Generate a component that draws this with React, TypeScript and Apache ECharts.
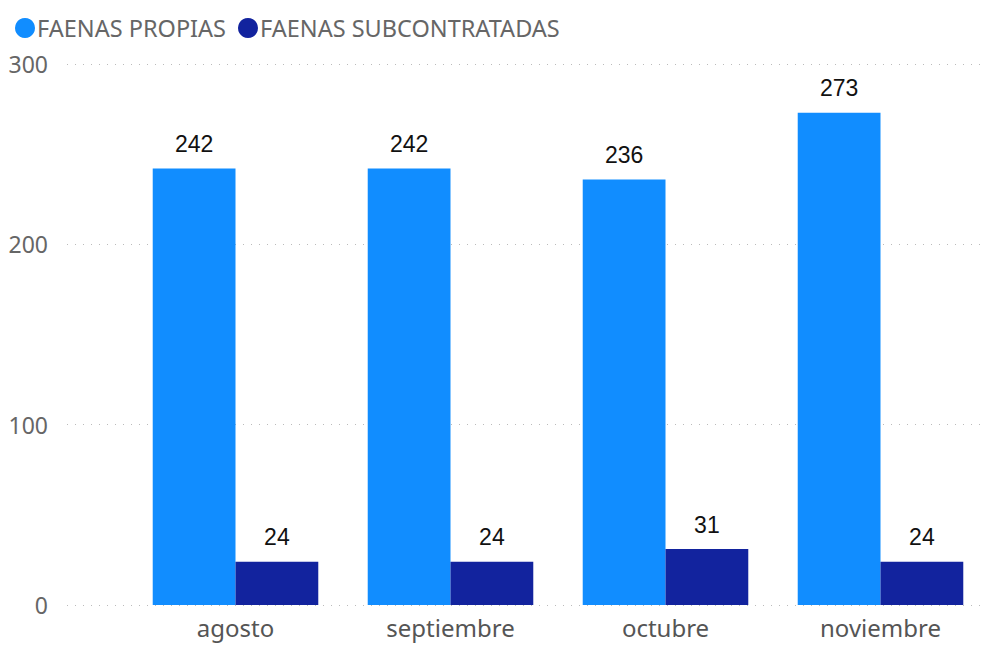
import React, { useEffect, useRef } from "react";
import * as echarts from "echarts";

const categories = ["agosto", "septiembre", "octubre", "noviembre"];
const propias = [242, 242, 236, 273];
const subcontratadas = [24, 24, 31, 24];
const seriesNames = ["FAENAS PROPIAS", "FAENAS SUBCONTRATADAS"];
const yTicks = { min: 0, max: 300, interval: 100 };

export default function App() {
  const ref = useRef<HTMLDivElement>(null);
  useEffect(() => {
    const chart = echarts.init(ref.current!, null, { renderer: "svg" });
    const font = "'Noto Sans', 'Open Sans', sans-serif";
    const labelStyle = {
      show: true,
      position: "top",
      distance: 13,
      fontFamily: "'Liberation Sans', Arial, sans-serif",
      fontSize: 23,
      color: "#111",
    };
    chart.setOption({
      animation: false,
      legend: {
        left: 10,
        top: 11,
        icon: "circle",
        itemWidth: 20,
        itemHeight: 20,
        itemGap: 12,
        textStyle: { fontFamily: font, fontSize: 23.5, color: "#666", padding: [0, 0, 0, -3] },
        data: seriesNames,
      },
      grid: [
        { left: 67, right: 6, top: 64, bottom: 41 },
        { left: 128, right: 5, top: 64, bottom: 41 },
      ],
      xAxis: [
        { type: "value", gridIndex: 0, show: false, min: 0, max: 1 },
        {
          type: "category",
          gridIndex: 1,
          data: categories,
          axisLine: { show: false },
          axisTick: { show: false },
          axisLabel: { fontFamily: font, fontSize: 24, lineHeight: 24, color: "#555", margin: 10 },
        },
      ],
      yAxis: [
        {
          type: "value",
          gridIndex: 0,
          ...yTicks,
          axisLine: { show: false },
          axisTick: { show: false },
          axisLabel: { fontFamily: font, fontSize: 23, color: "#666", margin: 19 },
          splitLine: { lineStyle: { type: [1, 7], color: "#bbb", width: 1.2 } },
        },
        {
          type: "value",
          gridIndex: 1,
          ...yTicks,
          show: false,
          splitLine: { show: false },
        },
      ],
      series: [
        {
          name: seriesNames[0],
          type: "bar",
          xAxisIndex: 1,
          yAxisIndex: 1,
          data: propias,
          barGap: "0%",
          barCategoryGap: "23%",
          itemStyle: { color: "#118DFF" },
          label: labelStyle,
        },
        {
          name: seriesNames[1],
          type: "bar",
          xAxisIndex: 1,
          yAxisIndex: 1,
          data: subcontratadas,
          barGap: "0%",
          barCategoryGap: "23%",
          itemStyle: { color: "#12239E" },
          label: labelStyle,
        },
      ],
    });
    return () => chart.dispose();
  }, []);
  return <div ref={ref} style={{ width: 993, height: 646, position: "absolute", left: 0, top: 0 }} />;
}
